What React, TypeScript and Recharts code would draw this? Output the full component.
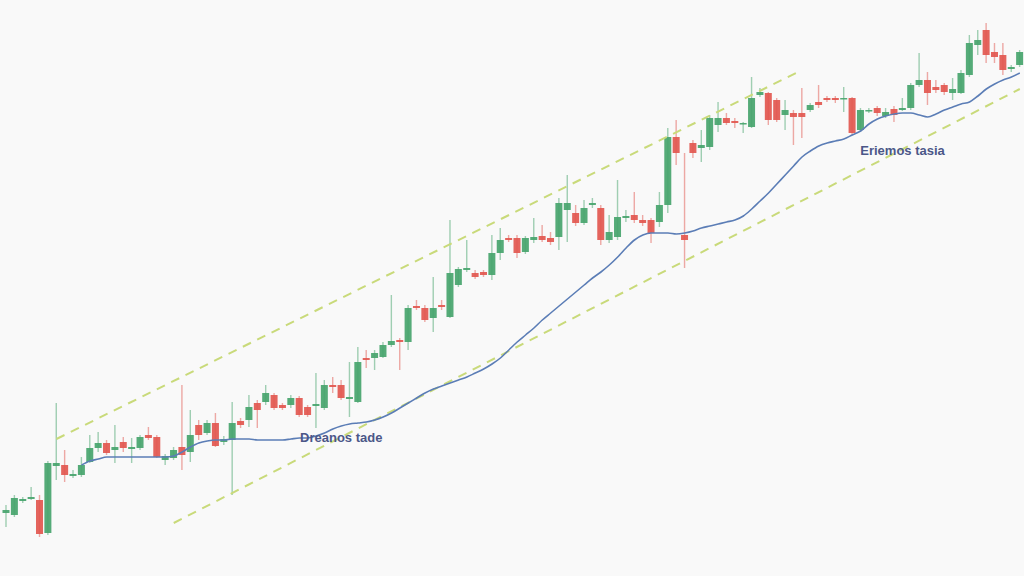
import { ComposedChart, Bar, Line, XAxis, YAxis, ReferenceLine, ReferenceDot } from "recharts";

// candle prices, left to right
const opens = [
  63, 61, 75, 77, 76, 43, 110, 111, 100, 101, 114, 128, 133, 126, 134, 127, 128, 141, 139, 116,
  118, 129, 124, 151, 143, 153, 134, 136, 155, 156, 173, 174, 181, 171, 171, 178, 169, 170, 168, 191,
  191, 177, 174, 218, 218, 219, 231, 236, 234, 270, 268, 258, 271, 259, 291, 306, 303, 304, 301, 323,
  338, 338, 324, 336, 340, 338, 339, 366, 363, 353, 371, 368, 336, 339, 358, 361, 356, 356, 354, 371,
  439, 341, 433, 428, 429, 451, 458, 455, 452, 449, 481, 483, 476, 461, 463, 463, 466, 474, 478, 478,
  477, 478, 446, 465, 468, 460, 467, 466, 468, 491, 496, 489, 491, 483, 483, 501, 531, 546, 524, 521,
  507, 511,
];
const closes = [
  66, 78, 77, 79, 42, 113, 113, 101, 102, 111, 128, 133, 123, 129, 128, 129, 139, 138, 119, 120,
  126, 121, 141, 141, 153, 130, 137, 153, 151, 169, 166, 183, 168, 168, 178, 161, 161, 172, 191, 189,
  178, 179, 214, 216, 223, 231, 235, 234, 268, 268, 256, 268, 269, 303, 307, 308, 299, 301, 323, 336,
  336, 323, 338, 339, 336, 334, 373, 373, 353, 368, 373, 336, 344, 359, 360, 356, 353, 343, 371, 439,
  423, 336, 423, 431, 458, 458, 453, 453, 453, 478, 484, 456, 456, 466, 459, 459, 471, 471, 476, 476,
  478, 443, 466, 466, 463, 464, 461, 468, 491, 496, 483, 486, 484, 487, 503, 533, 536, 521, 519, 506,
  509, 524,
];
const highs = [
  71, 81, 79, 89, 81, 115, 173, 126, 106, 119, 141, 144, 136, 151, 139, 138, 141, 149, 141, 122,
  129, 191, 166, 156, 156, 163, 140, 174, 158, 181, 176, 191, 183, 173, 181, 180, 171, 203, 196, 199,
  196, 214, 229, 226, 226, 234, 281, 238, 271, 276, 271, 299, 276, 356, 309, 336, 306, 306, 341, 348,
  341, 341, 340, 358, 351, 344, 378, 401, 371, 376, 378, 371, 361, 396, 366, 384, 361, 358, 384, 448,
  456, 423, 436, 446, 461, 474, 463, 458, 454, 499, 488, 484, 478, 476, 466, 488, 473, 491, 480, 480,
  489, 479, 468, 468, 470, 468, 470, 478, 493, 523, 504, 496, 493, 498, 506, 541, 546, 553, 533, 533,
  511, 526,
];
const lows = [
  49, 59, 73, 76, 39, 41, 96, 94, 98, 99, 113, 124, 121, 113, 124, 113, 126, 136, 118, 111,
  116, 106, 114, 136, 141, 129, 131, 81, 148, 149, 148, 171, 166, 166, 168, 159, 159, 148, 166, 183,
  176, 159, 173, 208, 206, 218, 229, 206, 226, 266, 254, 244, 266, 258, 289, 304, 297, 299, 296, 316,
  334, 318, 322, 333, 334, 331, 326, 334, 350, 351, 368, 331, 333, 336, 354, 353, 350, 333, 349, 363,
  411, 308, 418, 414, 426, 444, 451, 448, 443, 448, 479, 451, 454, 446, 431, 438, 464, 468, 474, 473,
  464, 441, 444, 463, 460, 458, 454, 465, 466, 489, 471, 483, 481, 476, 482, 499, 521, 513, 513, 501,
  504, 509,
];
const movingAverage: (number | null)[] = [
  null, null, null, null, null, null, null, null, null, 111,
  115, 117, 119, 119, 119, 119, 119, 119, 119, 119,
  120, 124, 129, 133, 135, 136, 136, 137, 137, 137,
  136, 136, 136, 136, 137, 138, 138, 140, 143, 147,
  150, 152, 153, 154, 156, 159, 163, 168, 173, 178,
  183, 187, 190, 193, 196, 199, 203, 207, 212, 218,
  226, 234, 241, 248, 256, 263, 270, 277, 284, 291,
  298, 304, 311, 319, 328, 336, 341, 343, 343, 343,
  342, 343, 345, 348, 350, 352, 354, 356, 360, 367,
  375, 383, 392, 401, 410, 419, 425, 430, 433, 435,
  437, 441, 445, 452, 457, 460, 462, 463, 463, 461,
  459, 462, 466, 469, 472, 474, 480, 487, 492, 496,
  499, 503,
];

const categories = opens.map((_, i) => `${i + 1}`);

// channel lines: [candle index, price] at each end
const upperChannel = [
  [6, 137],
  [95, 506],
];
const lowerChannel = [
  [20, 53],
  [121, 487],
];

const notes = [
  { text: "Dreanos tade", at: 40, price: 139 },
  { text: "Eriemos tasia", at: 107, price: 426 },
];

const GREEN = "#46a46c";
const RED = "#e2574f";

const data = categories.map((name, i) => ({
  name,
  open: opens[i],
  close: closes[i],
  high: highs[i],
  low: lows[i],
  range: [lows[i], highs[i]],
  ma: movingAverage[i],
}));

const Candle = (props: any) => {
  const { x, y, width, height, payload } = props;
  if (!payload) return null;
  const { open, close, high, low } = payload;
  const color = close >= open ? GREEN : RED;
  const top0 = Math.min(y, y + height);
  const h = Math.abs(height);
  const span = high - low || 1;
  const toY = (v: number) => top0 + ((high - v) / span) * h;
  const top = toY(Math.max(open, close));
  const bottom = toY(Math.min(open, close));
  const cx = x + width / 2;
  const bw = 7;
  return (
    <g>
      <line x1={cx} x2={cx} y1={top0} y2={top0 + h} stroke={color} strokeOpacity={0.5} strokeWidth={1.4} />
      <rect x={cx - bw / 2} y={top} width={bw} height={Math.max(bottom - top, 1.5)} fill={color} fillOpacity={0.92} />
    </g>
  );
};

const App = () => {
  return (
    <div style={{ position: "absolute", left: 0, top: 0, width: 1024, height: 576, background: "#f9f9f9" }}>
      <ComposedChart
        width={1024}
        height={576}
        data={data}
        margin={{ top: 0, right: 0, left: 2, bottom: 0 }}
        barCategoryGap={0}
      >
        <XAxis dataKey="name" hide />
        <YAxis hide domain={[0, 576]} />
        <ReferenceLine
          segment={upperChannel.map(([i, v]) => ({ x: categories[i], y: v }))}
          stroke="#c9da7a"
          strokeWidth={2}
          strokeDasharray="9 7"
          ifOverflow="visible"
        />
        <ReferenceLine
          segment={lowerChannel.map(([i, v]) => ({ x: categories[i], y: v }))}
          stroke="#c9da7a"
          strokeWidth={2}
          strokeDasharray="9 7"
          ifOverflow="visible"
        />
        <Line
          dataKey="ma"
          type="monotone"
          stroke="#5b7db6"
          strokeWidth={1.6}
          dot={false}
          activeDot={false}
          isAnimationActive={false}
        />
        <Bar dataKey="range" shape={Candle} isAnimationActive={false} />
        {notes.map((n) => (
          <ReferenceDot
            key={n.text}
            x={categories[n.at]}
            y={n.price}
            r={1}
            fill="none"
            stroke="none"
            label={{
              value: n.text,
              position: "center",
              fill: "#4b5788",
              fontSize: 13,
              fontWeight: 600,
              fontFamily: "Liberation Sans, Arial, sans-serif",
            }}
          />
        ))}
      </ComposedChart>
    </div>
  );
};

export default App;
